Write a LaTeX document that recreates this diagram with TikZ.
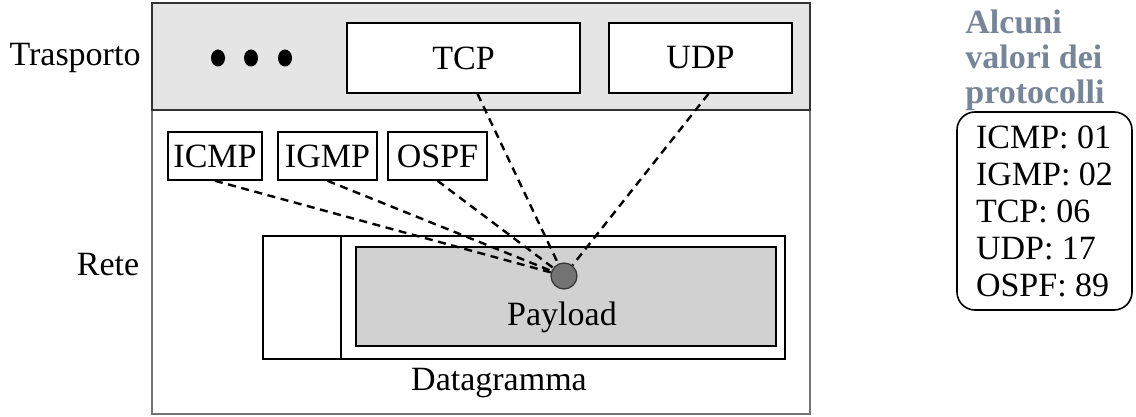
\documentclass[tikz,border=0pt]{standalone}
\usepackage{fontspec}
\setmainfont{Liberation Serif}
\usepackage{tikz}
\usetikzlibrary{shapes.geometric}

\definecolor{titlegray}{RGB}{118,134,152}

\begin{document}
\begin{tikzpicture}[x=0.5pt,y=-0.5pt,
    every node/.style={font=\fontsize{17}{20}\selectfont},
    layer/.style={rectangle, draw, line width=0.8pt, inner sep=0pt},
    proto/.style={rectangle, draw, line width=0.8pt, fill=white, inner sep=0pt, minimum height=24pt},
    dashline/.style={dash pattern=on 4pt off 2.8pt, line width=1.2pt}]
                        \useasboundingbox (0,0) rectangle (1136,417);

                        % Layers
                        \node[layer, draw=black!55, minimum width=329pt, minimum height=152pt] (rete) at (481,262) {};
                        \node[layer, draw=black!80, fill=black!10, minimum width=329pt, minimum height=53.5pt] (trasp) at (481,56.5) {};
                        \node (trasplabel) at (75,58) {Trasporto};
                        \node (retelabel) at (108,265) {Rete};

                        % Nodes
                        \node[ellipse, fill=black, inner sep=0pt, minimum width=7pt, minimum height=8.5pt] (dot1) at (218,58) {};
                        \node[ellipse, fill=black, inner sep=0pt, minimum width=7pt, minimum height=8.5pt] (dot2) at (251,58) {};
                        \node[ellipse, fill=black, inner sep=0pt, minimum width=7pt, minimum height=8.5pt] (dot3) at (285,58) {};
                        \node[proto, minimum width=116.5pt, minimum height=35pt] (tcp) at (463.5,58) {TCP};
                        \node[proto, minimum width=91.5pt, minimum height=35pt] (udp) at (700.5,58) {UDP};
                        \node[proto, minimum width=47pt] (icmp) at (215,156) {ICMP};
                        \node[proto, minimum width=49.5pt] (igmp) at (327.5,156) {IGMP};
                        \node[proto, minimum width=49.5pt] (ospf) at (437.5,156) {OSPF};

                        \node[layer, minimum width=261pt, minimum height=61.5pt] (dgram) at (524,297.5) {};
                        \node[layer, minimum width=39pt, minimum height=61.5pt] (header) at (302,297.5) {};
                        \node[layer, fill=black!18, minimum width=210pt, minimum height=49.5pt] (payload) at (566,296.5) {};
                        \node[circle, draw=black!80, fill=black!55, line width=0.6pt, inner sep=0pt, minimum size=13pt] (pl) at (564,276) {};
                        \node (payloadlabel) at (562,317) {Payload};
                        \node (dgramlabel) at (499,383) {Datagramma};

                        % Values
                        \node[text=titlegray, font=\fontsize{17}{17.5}\selectfont\bfseries, align=left] (title) at (1035,60) {Alcuni\\valori dei\\protocolli};
                        \node[rectangle, rounded corners=9pt, draw, line width=0.8pt, minimum width=87.5pt, minimum height=99pt, align=left, font=\fontsize{17}{18.5}\selectfont] (values) at (1044.5,211) {ICMP: 01\\IGMP: 02\\TCP: 06\\UDP: 17\\OSPF: 89};

                        % Edges
                        \draw[dashline] (icmp.south) -- (pl);
                        \draw[dashline] (igmp.south) -- (pl);
                        \draw[dashline] (ospf.south) -- (pl);
                        \draw[dashline] ([xshift=7pt]tcp.south) -- (pl);
                        \draw[dashline] ([xshift=4pt]udp.south) -- (pl);
                    \end{tikzpicture}
\end{document}
